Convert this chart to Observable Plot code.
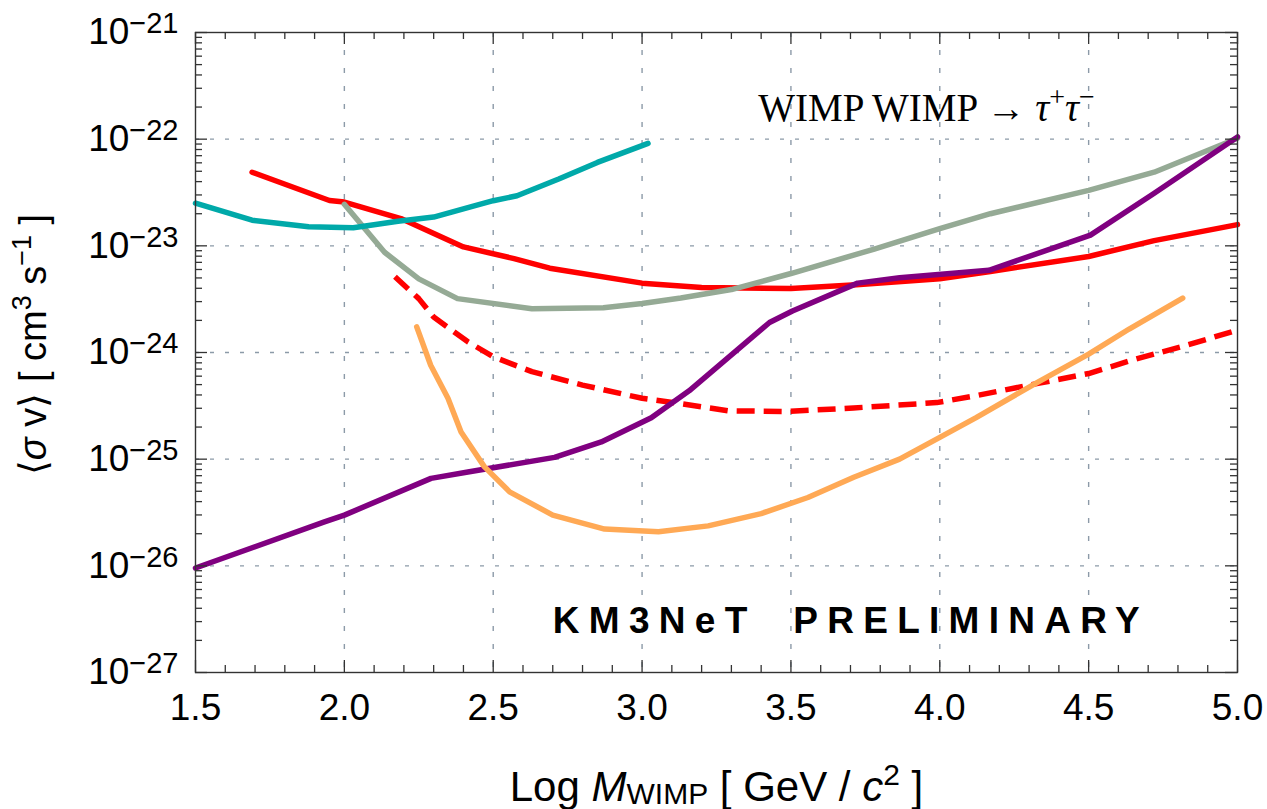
<!DOCTYPE html>
<html><head><meta charset="utf-8">
<script src="https://cdn.jsdelivr.net/npm/d3@7"></script>
<script src="https://cdn.jsdelivr.net/npm/@observablehq/plot@0.6"></script>
<style>body{margin:0;background:#fff;}</style>
</head><body><div id="chart"></div>
<script>
// ---- data: x = log10(M_WIMP / GeV), y = <sigma v> in cm^3 s^-1 ----
const tealX = [1.5, 1.69, 1.88, 2.03, 2.18, 2.3, 2.43, 2.5, 2.58, 2.72, 2.85, 3.02];
const tealY = [2.51e-23, 1.74e-23, 1.51e-23, 1.48e-23, 1.70e-23, 1.86e-23, 2.34e-23, 2.65e-23, 2.95e-23, 4.23e-23, 6.05e-23, 9.12e-23];

const redX = [1.69, 1.95, 2.0, 2.19, 2.4, 2.57, 2.69, 3.0, 3.2, 3.5, 3.72, 4.0, 4.17, 4.5, 4.72, 5.0];
const redY = [4.90e-23, 2.66e-23, 2.57e-23, 1.80e-23, 9.77e-24, 7.59e-24, 6.17e-24, 4.47e-24, 4.07e-24, 3.98e-24, 4.32e-24, 4.90e-24, 5.75e-24, 7.94e-24, 1.12e-23, 1.58e-23];

const grayX = [2.0, 2.135, 2.25, 2.38, 2.63, 2.87, 3.0, 3.13, 3.3, 3.5, 3.78, 4.0, 4.17, 4.5, 4.72, 5.0];
const grayY = [2.45e-23, 8.71e-24, 4.90e-24, 3.20e-24, 2.57e-24, 2.63e-24, 2.88e-24, 3.24e-24, 3.89e-24, 5.50e-24, 9.33e-24, 1.45e-23, 2.00e-23, 3.31e-23, 4.90e-23, 1.02e-22];

const redDashX = [2.17, 2.25, 2.30, 2.415, 2.50, 2.63, 2.80, 3.0, 3.13, 3.29, 3.48, 3.71, 3.99, 4.12, 4.33, 4.50, 4.66, 4.82, 5.0];
const redDashY = [5.13e-24, 3.20e-24, 2.15e-24, 1.26e-24, 9.12e-25, 6.61e-25, 4.95e-25, 3.72e-25, 3.31e-25, 2.84e-25, 2.80e-25, 3.02e-25, 3.39e-25, 3.93e-25, 5.13e-25, 6.35e-25, 8.71e-25, 1.15e-24, 1.62e-24];

const orangeX = [2.243, 2.29, 2.348, 2.392, 2.47, 2.555, 2.70, 2.874, 3.055, 3.222, 3.40, 3.557, 3.711, 3.865, 4.0, 4.122, 4.328, 4.50, 4.636, 4.816];
const orangeY = [1.74e-24, 7.59e-25, 3.72e-25, 1.80e-25, 8.51e-26, 4.94e-26, 2.99e-26, 2.21e-26, 2.09e-26, 2.37e-26, 3.09e-26, 4.37e-26, 6.76e-26, 1.00e-25, 1.60e-25, 2.45e-25, 5.25e-25, 9.64e-25, 1.66e-24, 3.24e-24];

const purpleX = [1.5, 1.933, 2.0, 2.291, 2.415, 2.706, 2.863, 3.031, 3.158, 3.428, 3.505, 3.724, 3.865, 4.165, 4.506, 4.719, 5.0];
const purpleY = [9.55e-27, 2.58e-26, 2.99e-26, 6.61e-26, 7.59e-26, 1.04e-25, 1.45e-25, 2.45e-25, 4.37e-25, 1.91e-24, 2.45e-24, 4.47e-24, 5.01e-24, 5.89e-24, 1.26e-23, 3.09e-23, 1.05e-22];

// ---- ticks / grid ----
const xMajorTicks = [1.5, 2.0, 2.5, 3.0, 3.5, 4.0, 4.5, 5.0];
const xMinorTicks = d3.range(15, 51).filter(i => i % 5 !== 0).map(i => i / 10);
const xGrid = [2.0, 2.5, 3.0, 3.5, 4.0, 4.5];
const yMajorTicks = [1e-27, 1e-26, 1e-25, 1e-24, 1e-23, 1e-22, 1e-21];
const yMinorTicks = yMajorTicks.slice(0, -1).flatMap(p => d3.range(2, 10).map(m => m * p));
const yGrid = [1e-26, 1e-25, 1e-24, 1e-23, 1e-22];

// ---- annotations (data space) ----
const wimpLabel = ["WIMP WIMP → ττ"];
const wimpLabelX = [3.39];
const wimpLabelY = [1.49e-22];
const km3Label = ["KM3NeT PRELIMINARY"];
const km3LabelX = [2.70];
const km3LabelY = [2.37e-27];
const xAxisLabel = ["Log M WIMP [ GeV / c2 ]"];
const yAxisLabel = ["<σ v> [ cm3 s-1 ]"];

const W = 1267, H = 809, mt = 32, mr = 30, mb = 137, ml = 195;
const fw = W - ml - mr, fh = H - mt - mb;
const rows = (xs, ys) => xs.map((x, i) => ({x, y: ys[i]}));
const gridColor = "#8c9aa8";
const tickColor = "#333";
const sans = "'Liberation Sans', Arial, Helvetica, sans-serif";
const LW = 5.5;

const svg = Plot.plot({
  width: W, height: H,
  marginTop: mt, marginRight: mr, marginBottom: mb, marginLeft: ml,
  x: {domain: [1.5, 5.0]},
  y: {type: "log", domain: [1e-27, 1e-21]},
  style: {fontFamily: sans, fontSize: "37px", background: "white", color: "black"},
  marks: [
    Plot.ruleX(xGrid, {x: d => d, stroke: gridColor, strokeWidth: 1.4, strokeDasharray: "5,13"}),
    Plot.ruleY(yGrid, {y: d => d, stroke: gridColor, strokeWidth: 1.4, strokeDasharray: "4,11"}),
    Plot.line(rows(redX, redY), {x: "x", y: "y", stroke: "#ff0000", strokeWidth: LW}),
    Plot.line(rows(redDashX, redDashY), {x: "x", y: "y", stroke: "#ff0000", strokeWidth: LW, strokeDasharray: "18,9", strokeLinecap: "butt"}),
    Plot.line(rows(grayX, grayY), {x: "x", y: "y", stroke: "#95aa95", strokeWidth: LW}),
    Plot.line(rows(tealX, tealY), {x: "x", y: "y", stroke: "#00a9a9", strokeWidth: LW}),
    Plot.line(rows(purpleX, purpleY), {x: "x", y: "y", stroke: "#800080", strokeWidth: LW}),
    Plot.line(rows(orangeX, orangeY), {x: "x", y: "y", stroke: "#ffa955", strokeWidth: LW}),
    // inward ticks
    Plot.ruleX(xMajorTicks, {x: d => d, insetTop: fh - 12, stroke: tickColor, strokeWidth: 1.3}),
    Plot.ruleX(xMajorTicks, {x: d => d, insetBottom: fh - 12, stroke: tickColor, strokeWidth: 1.3}),
    Plot.ruleX(xMinorTicks, {x: d => d, insetTop: fh - 7, stroke: tickColor, strokeWidth: 1.3}),
    Plot.ruleX(xMinorTicks, {x: d => d, insetBottom: fh - 7, stroke: tickColor, strokeWidth: 1.3}),
    Plot.ruleY(yMajorTicks, {y: d => d, insetRight: fw - 12, stroke: tickColor, strokeWidth: 1.3}),
    Plot.ruleY(yMajorTicks, {y: d => d, insetLeft: fw - 12, stroke: tickColor, strokeWidth: 1.3}),
    Plot.ruleY(yMinorTicks, {y: d => d, insetRight: fw - 7, stroke: tickColor, strokeWidth: 1.3}),
    Plot.ruleY(yMinorTicks, {y: d => d, insetLeft: fw - 7, stroke: tickColor, strokeWidth: 1.3}),
    Plot.frame({stroke: tickColor, strokeWidth: 1.4}),
    Plot.axisX({ticks: xMajorTicks, anchor: "bottom", tickSize: 0, tickPadding: 21, tickFormat: d3.format(".1f"), label: null, fontSize: 37}),
    Plot.axisY({ticks: yMajorTicks, anchor: "left", tickSize: 0, tickPadding: 17, tickFormat: d => "10^" + Math.round(Math.log10(d)), label: null, fontSize: 37}),
    Plot.text(xAxisLabel, {text: d => d, frameAnchor: "bottom", dy: 128, textAnchor: "middle", lineAnchor: "bottom", fontSize: 42}),
    Plot.text(yAxisLabel, {text: d => d, frameAnchor: "left", rotate: -90, dx: -162, dy: -8, textAnchor: "middle", lineAnchor: "middle", fontSize: 38}),
    Plot.text(wimpLabel, {text: d => d, x: (d, i) => wimpLabelX[i], y: (d, i) => wimpLabelY[i], textAnchor: "start", lineAnchor: "bottom", fontFamily: "'Liberation Serif', 'Times New Roman', serif", fontSize: 39}),
    Plot.text(km3Label, {text: d => d, x: (d, i) => km3LabelX[i], y: (d, i) => km3LabelY[i], textAnchor: "start", lineAnchor: "bottom", fontWeight: "bold", fontSize: 37})
  ]
});

function setRich(el, parts) {
  el.textContent = "";
  let shift = 0;
  for (const p of parts) {
    const ts = document.createElementNS("http://www.w3.org/2000/svg", "tspan");
    ts.textContent = p.t;
    const target = p.shift || 0;
    if (target !== shift) { ts.setAttribute("dy", target - shift); shift = target; }
    if (p.size) ts.setAttribute("font-size", p.size);
    if (p.italic) ts.setAttribute("font-style", "italic");
    el.appendChild(ts);
  }
}
const byText = str => d3.select(svg).selectAll("text").filter(function () { return this.textContent === str; });

d3.select(svg).selectAll("text").filter(function () { return /^10\^/.test(this.textContent); }).each(function () {
  const exp = this.textContent.split("^")[1].replace("-", "−");
  setRich(this, [{t: "10"}, {t: exp, size: 29, shift: -11}]);
});
byText(xAxisLabel[0]).each(function () {
  setRich(this, [{t: "Log "}, {t: "M", italic: true}, {t: "WIMP", size: 30, shift: 3}, {t: " [ GeV / ", shift: 0}, {t: "c", italic: true}, {t: "2", size: 30, shift: -16}, {t: " ]", shift: 0}]);
});
byText(yAxisLabel[0]).each(function () {
  setRich(this, [{t: "⟨"}, {t: "σ", italic: true}, {t: " v⟩ [ cm"}, {t: "3", size: 27, shift: -15}, {t: " s", shift: 0}, {t: "−1", size: 27, shift: -15}, {t: " ]", shift: 0}]);
});
byText(wimpLabel[0]).each(function () {
  setRich(this, [{t: "WIMP WIMP → "}, {t: "τ", italic: true}, {t: "+", size: 28, shift: -15}, {t: "τ", italic: true, shift: 0}, {t: "−", size: 28, shift: -15}]);
});
byText(km3Label[0]).attr("letter-spacing", 9.3).attr("word-spacing", 17);

document.getElementById("chart").appendChild(svg);
</script>
</body></html>
